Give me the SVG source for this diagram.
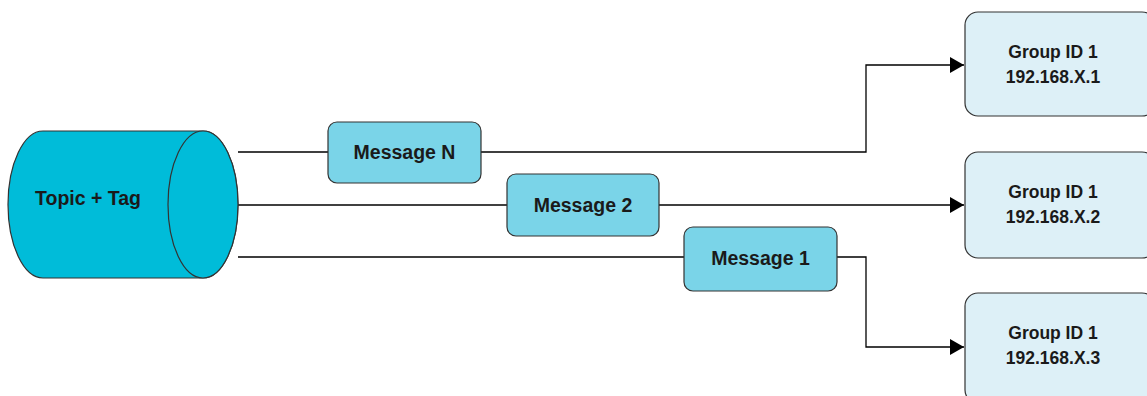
<svg xmlns="http://www.w3.org/2000/svg" width="1147" height="396" viewBox="0 0 1147 396">
<style>
.t{font-family:"Liberation Sans",Arial,sans-serif;font-weight:bold;font-size:19.5px;fill:#1a1a1a;text-anchor:middle;dominant-baseline:central}
.g{font-size:17.5px}
.msg{fill:#7ad4e8;stroke:#333;stroke-width:1.2}
.grp{fill:#ddf0f7;stroke:#333;stroke-width:1.2}
.ln{fill:none;stroke:#000;stroke-width:1.3}
</style>
<defs>
<marker id="arr" markerWidth="14" markerHeight="16" refX="14" refY="8" orient="auto" markerUnits="userSpaceOnUse" viewBox="0 0 14 16"><path d="M0,0 L14,8 L0,16 z" fill="#000"/></marker>
</defs>
<g id="connectors">
<path class="ln" d="M238,152 H866 V65 H964" marker-end="url(#arr)"/>
<path class="ln" d="M238,205 H964" marker-end="url(#arr)"/>
<path class="ln" d="M238,257 H866 V347 H964" marker-end="url(#arr)"/>
</g>
<g id="topic">
<path d="M43,131 H203 A35,73.5 0 0 1 203,278 H43 A35,73.5 0 0 1 43,131 Z" fill="#00bcd9" stroke="#333" stroke-width="1.2"/>
<ellipse cx="203" cy="204.5" rx="35" ry="73.5" fill="#00bcd9" stroke="#333" stroke-width="1.2"/>
<text class="t" x="88" y="198">Topic + Tag</text>
</g>
<g id="msgN"><rect class="msg" x="328" y="122" width="153" height="61" rx="9"/><text class="t" x="404.5" y="152">Message N</text></g>
<g id="msg2"><rect class="msg" x="507" y="174" width="152" height="62" rx="9"/><text class="t" x="583" y="205">Message 2</text></g>
<g id="msg1"><rect class="msg" x="684" y="227" width="153" height="64" rx="9"/><text class="t" x="760.5" y="258">Message 1</text></g>
<g id="group1"><rect class="grp" x="965" y="12" width="190" height="104" rx="13"/><text class="t g" x="1053" y="52">Group ID 1</text><text class="t g" x="1053" y="77">192.168.X.1</text></g>
<g id="group2"><rect class="grp" x="965" y="152" width="190" height="106" rx="13"/><text class="t g" x="1053" y="192">Group ID 1</text><text class="t g" x="1053" y="217">192.168.X.2</text></g>
<g id="group3"><rect class="grp" x="965" y="293" width="190" height="110" rx="13"/><text class="t g" x="1053" y="333">Group ID 1</text><text class="t g" x="1053" y="358">192.168.X.3</text></g>
</svg>
